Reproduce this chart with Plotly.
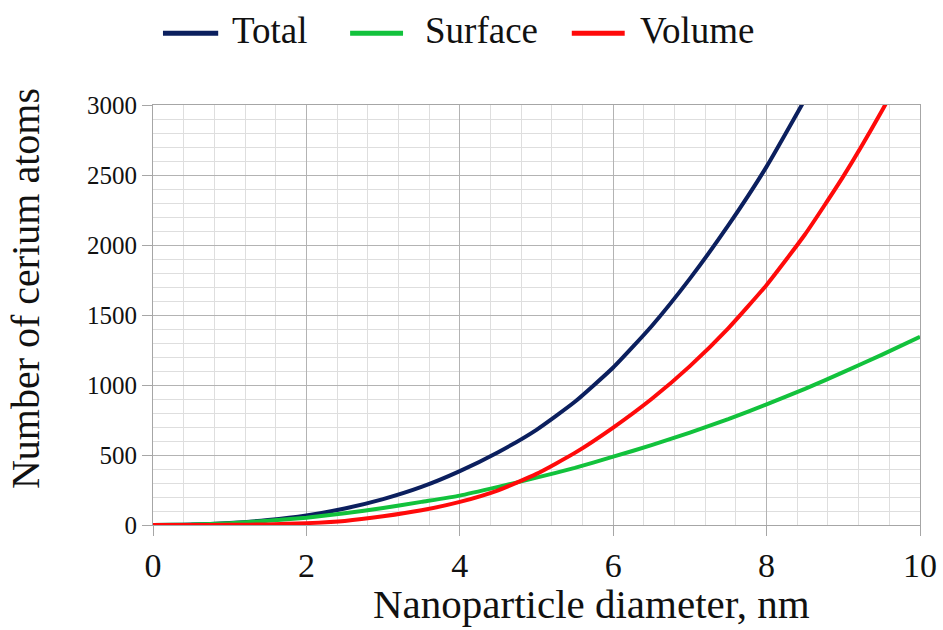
import plotly.graph_objects as go

# Nanoparticle diameter (nm)
diameter = [0, 0.5, 1, 1.5, 2, 2.5, 3, 3.5, 4, 4.5, 5, 5.5, 6, 6.5, 7, 7.5, 8, 8.5, 9, 9.5, 10]

# Number of cerium atoms
total = [0, 3, 14, 35, 68, 118, 185, 272, 385, 520, 680, 880, 1125, 1420, 1760, 2140, 2560, 3040,
         None, None, None]
surface = [0, 3, 13, 30, 52, 84, 121, 165, 210, 272, 338, 408, 488, 570, 660, 756, 862, 972,
           1092, 1215, 1345]
volume = [0, 0, 1, 4, 13, 29, 62, 105, 165, 248, 365, 515, 696, 900, 1135, 1405, 1715, 2075,
          2490, 2955, 3465]

series = [
    ("Total", total, "#0b1f5e"),
    ("Surface", surface, "#12c23c"),
    ("Volume", volume, "#ff0a0a"),
]

x_ticks = [0, 2, 4, 6, 8, 10]
y_ticks = [0, 500, 1000, 1500, 2000, 2500, 3000]

FONT = "Liberation Serif, Times New Roman, serif"
TEXT = "#111111"

fig = go.Figure()
for name, values, color in series:
    fig.add_trace(go.Scatter(
        x=diameter, y=values, name=name, mode="lines",
        line=dict(color=color, width=4, shape="spline", smoothing=0.5),
        showlegend=False,
    ))

# Legend row above the plot: a short line sample followed by the series name
legend_slots = [  # (line start, line end, text left) in paper x
    (0.013, 0.085, 0.100),
    (0.257, 0.326, 0.352),
    (0.546, 0.615, 0.632),
]
for (x0, x1, xt), (name, _, color) in zip(legend_slots, series):
    fig.add_shape(type="line", xref="paper", yref="paper",
                  x0=x0, x1=x1, y0=1.171, y1=1.171,
                  line=dict(color=color, width=5))
    fig.add_annotation(text=name, xref="paper", yref="paper",
                       x=xt, y=1.178, xanchor="left", yanchor="middle",
                       showarrow=False, font=dict(family=FONT, size=37, color=TEXT))

axis_common = dict(
    showline=True, linecolor="#a6a6a6", linewidth=1, mirror=True,
    showgrid=True, gridcolor="#b3b3b3", gridwidth=1,
    ticks="outside", ticklen=10, tickcolor="#a6a6a6", tickwidth=1,
    zeroline=False,
)

fig.update_xaxes(
    range=[0, 10], tickvals=x_ticks,
    tickfont=dict(family=FONT, size=34, color=TEXT),
    minor=dict(dtick=0.4, showgrid=True, gridcolor="#dedede", gridwidth=1, ticks=""),
    **axis_common,
)
fig.update_yaxes(
    range=[0, 3000], tickvals=y_ticks,
    tickfont=dict(family=FONT, size=25, color=TEXT),
    minor=dict(dtick=100, showgrid=True, gridcolor="#dedede", gridwidth=1, ticks=""),
    **axis_common,
)

fig.add_annotation(
    text="Nanoparticle diameter, nm", xref="paper", yref="paper",
    x=0.572, y=-0.247, xanchor="center", yanchor="bottom", showarrow=False,
    font=dict(family=FONT, size=41, color=TEXT),
)
fig.add_annotation(
    text="Number of cerium atoms", xref="paper", yref="paper",
    x=-0.167, y=0.564, xanchor="center", yanchor="middle", showarrow=False,
    textangle=-90, font=dict(family=FONT, size=40, color=TEXT),
)

fig.update_layout(
    width=943, height=630,
    margin=dict(l=153, r=23, t=105, b=105, autoexpand=False),
    paper_bgcolor="white", plot_bgcolor="white",
    showlegend=False,
)

fig.write_html("out.html")
